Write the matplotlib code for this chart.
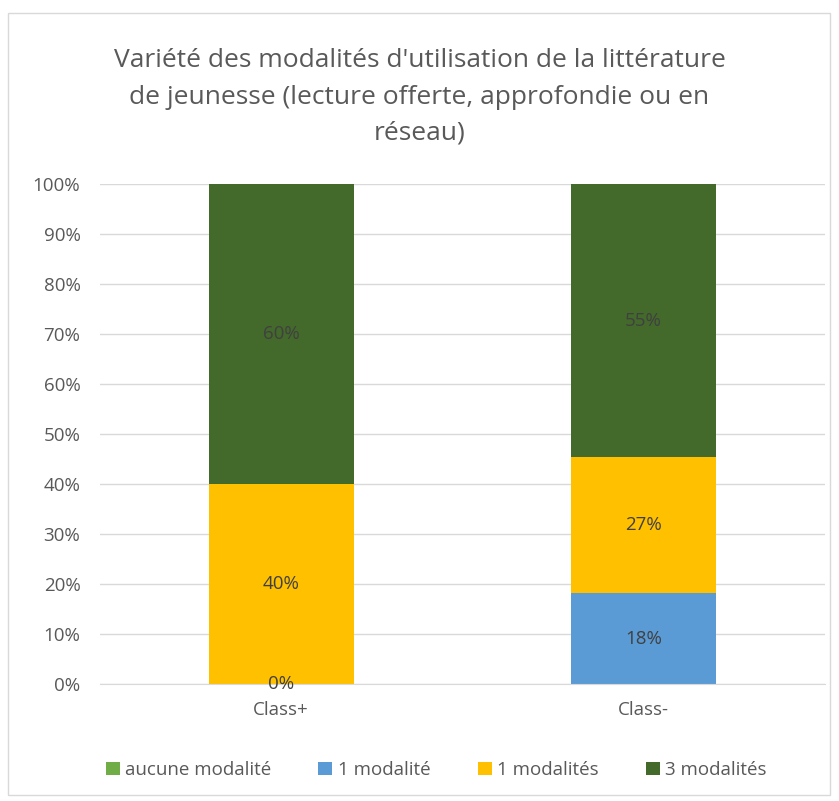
import matplotlib.pyplot as plt
from matplotlib.patches import Rectangle
import numpy as np

# données
classes = ['Class+', 'Class-']
series = ['aucune modalité', '1 modalité', '1 modalités', '3 modalités']
aucune = [0, 0]
une = [0, 18.18]
unes = [40, 27.27]
trois = [60, 54.55]
colors = ['#70AD47', '#5B9BD5', '#FFC000', '#436A2B']

plt.rcParams['font.family'] = ['Open Sans', 'DejaVu Sans']

fig = plt.figure(figsize=(8.39, 8.01), dpi=100)
ax = fig.add_axes([0.119, 0.146, 0.864, 0.624])

x = np.arange(len(classes))
bottom = np.zeros(len(classes))
values = [aucune, une, unes, trois]
for name, vals, col in zip(series, values, colors):
    vals = np.array(vals, dtype=float)
    ax.bar(x, vals, 0.4, bottom=bottom, color=col, label=name, zorder=2)
    for i, v in enumerate(vals):
        show = v > 0 or (name == '1 modalité' and i == 0)
        if show:
            ax.text(x[i], bottom[i] + v / 2, f'{v:.0f}%', ha='center', va='center',
                    fontsize=13.5, color='#404040', zorder=3)
    bottom += vals

ax.set_xlim(-0.5, 1.5)
ax.set_ylim(0, 100)
ax.set_yticks(np.arange(0, 101, 10))
ax.set_yticklabels([f'{t}%' for t in range(0, 101, 10)])
ax.set_xticks(x)
ax.set_xticklabels(classes)
ax.tick_params(axis='both', length=0, labelsize=13.5, labelcolor='#595959')
ax.tick_params(axis='x', pad=12)
ax.tick_params(axis='y', pad=14)
ax.grid(axis='y', color='#D9D9D9', linewidth=1, zorder=0)
for s in ['top', 'right', 'left']:
    ax.spines[s].set_visible(False)
ax.spines['bottom'].set_color('#D9D9D9')

fig.text(0.5, 1 - 97 / 801, "Variété des modalités d'utilisation de la littérature\n"
         "de jeunesse (lecture offerte, approfondie ou en\nréseau)",
         ha='center', va='center', fontsize=19, color='#595959', linespacing=1.6)

ax.legend(loc='center', bbox_to_anchor=(0.52, 1 - 770 / 801), bbox_transform=fig.transFigure,
          ncol=4, frameon=False, fontsize=13.5, labelcolor='#595959',
          handlelength=0.75, handleheight=0.75, handletextpad=0.3, columnspacing=2.5)

fig.patches.append(Rectangle((8 / 839, 1 - 795 / 801), 822 / 839, 782 / 801,
                             transform=fig.transFigure, fill=False,
                             edgecolor='#D9D9D9', linewidth=1))

fig.savefig('out.png', dpi=100)
